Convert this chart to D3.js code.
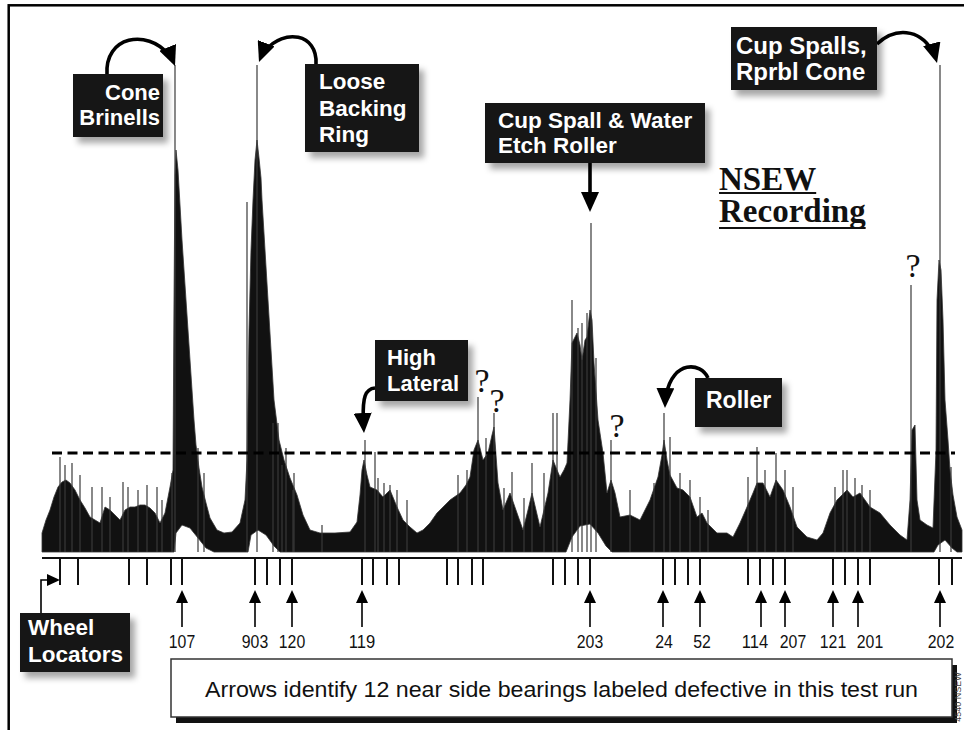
<!DOCTYPE html>
<html><head><meta charset="utf-8">
<script src="https://cdn.jsdelivr.net/npm/d3@7"></script>
<style>
html,body{margin:0;padding:0;background:#fff;}
svg{display:block;}
</style></head>
<body>
<svg id="chart" width="964" height="730"></svg>
<script>
// ---- DATA (position along train: 0..460, amplitude: 0..100) ----
const envelopeTop = [
 [0,5],[2,7.6],[4,9.6],[6,12.2],[8,14.2],[10,15.2],[12,15.6],[14,15],[16.5,13.6],[19,11.6],[21.5,10],[24,8.2],[26.5,7.6],[29,7],
 [31.5,10.2],[34,9.6],[36.5,8.6],[39,7.6],[41.5,9.6],[44,10.2],[46.5,10.2],[49,10.6],[51.5,10.6],[54,10],[56.5,9],[59,7],[61.5,9],
 [64,14.2],[65.5,17.6],[66,51.6],[66.5,76.6],[67,81.6],[68,77.6],[69,70.6],[70,63.6],[71,57.6],[72,51.6],[73,45.6],[74,39.6],
 [75,33.6],[76,27.6],[77,22.6],[78.5,18],[80,14.2],[82,11],[84,8],[87.5,5.6],[91,5],[95,5.2],[99,7],[101.5,11.6],
 [102.5,19.6],[103,31.6],[103.5,45.6],[104.5,61.6],[105.5,71.6],[106.5,79.6],[107.5,83.6],[108.5,80],[109.5,76],[110,71.6],
 [111.5,61.6],[113,51.6],[114.5,41.6],[116,31.6],[118.5,23.6],[121,19.6],[124,16],[127.5,12.6],[130.5,8.6],[134,5.6],[139,5],
 [146.5,5],[154,5.2],
 [157.5,7.2],[159,12.6],[160,17.6],[161,19.6],[162.5,16.6],[164,14.2],[167.5,13.6],[170.5,12.2],[174,13.6],[177.5,10.2],[180.5,7.6],
 [184,6.2],[187.5,5],[190.5,5.6],[194,7],[197.5,9],[201.5,10.6],[204,11.6],[209,13],[212,14.6],[214,16.2],[216,21.6],[218,23.6],
 [220.5,19.6],[223,21],[225,24.6],[226,26.2],[228,15],[230.5,9.6],[234,13],[237.5,9],[240.5,5.6],[243,9.6],[245,13],[247,9.6],
 [249,6.2],[253,13],[255.5,19.6],[257.5,17.6],[259,16.2],[261,17.6],[262.5,19],[264,31.6],[265,43],[267.5,45],[269,42.6],[270,39.6],
 [271.5,43.6],[272.5,44.2],[274,49.6],[275,47.6],[276,39],[278,27.6],[280.5,21],[282.5,13],[284.5,15.6],[286.5,13],[289,8.2],
 [294,8.6],[299,7.6],[304,11.6],[308,16.2],[310,20.6],[311,23.6],[312.5,19.6],[314,16.6],[317.5,14],[320.5,13.6],[324,12.2],
 [327.5,8.2],[330,9],[332.5,7],[337.5,5],[342.5,5],[345.5,4.2],[349,7],[352.5,10.2],[355.5,13],[357.5,15],[360.5,15],[364,12.2],
 [367,15.6],[370.5,13.6],[374,10.2],[377.5,6.2],[382.5,4.2],[387.5,3.6],[390.5,5],[394,9],[397.5,11.6],[402.5,13.6],[405.5,12.2],
 [409,13],[414,10.2],[419,9],[424,6.6],[429,4.6],[432.5,3.6],[434,11.6],[435,25.6],[436.5,26.6],[437.5,11.6],[439,7.6],[442.5,6.6],
 [445.5,6],[447,21.6],[447.5,51.6],[448.5,59.6],[449.5,57.6],[450.5,47.6],[451.5,31.6],[453,23.6],[454,17.6],[455.5,12.6],
 [457.5,8.2],[460,5.6]
];
const envelopeBottom = [
 [0,1.2],[66,1.2],[67,5],[70,6.6],[74,6],[78,4],[82,2],[86,1.2],
 [103,1.2],[104.5,4.6],[108,5.6],[112,4.6],[116,2.4],[119,1.2],
 [262,1.2],[265,4.2],[269,6.4],[274,6.8],[278,5],[282,2.4],[285,1.2],
 [446,1.2],[448,2.6],[451.5,3.6],[455,2],[457.5,1.2],[460,1.2]
];
const spikes = [
 [9,20.2],[11.5,18.6],[15,19],[19,16.6],[25,14.2],[30,14.2],[34,12.2],[40.5,15.2],[43,14.2],[48,13.6],[52.5,14.6],[57.5,14.2],
 [60,11.6],[65,17],[66.5,98.6],[102.5,71.2],[107.5,98.6],[115.5,27],[120,18.6],[125.5,13.6],[140,6.6],[161.5,23.6],[166.5,21.2],
 [174,14.6],[177.5,13.6],[182.5,11.6],[208,16.6],[212.5,17.6],[218,32.2],[226,29],[235,17.2],[245,19],[255.5,29],[257.5,29],
 [265,51.6],[270,47],[272.5,49],[274.5,67],[284.5,23.6],[294,13.6],[311,29],[314,24.2],[319,17],[324,15.6],[329,12.2],[333,9.6],
 [353,16.2],[357.5,22.2],[361.5,17.6],[367,21],[371.5,17.6],[375.5,14.2],[396.5,14.2],[400.5,17.6],[402.5,17.6],[406.5,16],
 [410,14.6],[414,13.6],[434.5,54.6],[449,98.6],[454.5,18.2],
 [78,22],[81,17],[118,27],[122,22],[126,17],[168,16],[171,15],[222,24],[231,14],[241,12],[251,17],[268,46],[277,40],[306,15]
];
const wheelLocators = [9,18,43.5,52.5,64.5,70,106.5,112.5,119,125,160,165.5,172.5,178.5,202.5,208,215,220.5,
 255.5,261.5,268,274,310.5,316.5,323,329,353,359,365.5,371.5,395.5,401.5,408,414,448.5,455];
const defectLabels = ["107","903","120","119","203","24","52","114","207","121","201","202"];
const defectPositions = [70,106.5,125,160,274,310.5,329,359.5,371.5,395.5,408,449];
const defectLabelPositions = [70,106.5,125,160,274,311,330,356.5,375.5,395.5,414,449.5];
const threshold = 21;
const thresholdSpan = [5,456.5];
const caption = "Arrows identify 12 near side bearings labeled defective in this test run";

// ---- SCALES ----
const svg = d3.select("#chart");
const x = d3.scaleLinear().domain([0,460]).range([42,962]);
const y = d3.scaleLinear().domain([0,100]).range([558,58]);

// defs
const defs = svg.append("defs");
const f = defs.append("filter").attr("id","sh").attr("x","-20%").attr("y","-20%").attr("width","160%").attr("height","170%");
f.append("feDropShadow").attr("dx",5).attr("dy",6).attr("stdDeviation",3).attr("flood-color","#000").attr("flood-opacity",0.35);
defs.append("marker").attr("id","ah").attr("markerUnits","userSpaceOnUse")
  .attr("markerWidth",20).attr("markerHeight",18).attr("viewBox","0 0 20 18")
  .attr("refX",20).attr("refY",9).attr("orient","auto")
  .append("path").attr("d","M0,0 L20,9 L0,18 Z").attr("fill","#000");
defs.append("marker").attr("id","ahs").attr("markerUnits","userSpaceOnUse")
  .attr("markerWidth",13).attr("markerHeight",12).attr("viewBox","0 0 13 12")
  .attr("refX",13).attr("refY",6).attr("orient","auto")
  .append("path").attr("d","M0,0 L13,6 L0,12 Z").attr("fill","#000");

// frame
svg.append("rect").attr("x",8.7).attr("y",5.3).attr("width",1000).attr("height",1000)
  .attr("fill","none").attr("stroke","#000").attr("stroke-width",2.5);

// ---- SIGNAL ENVELOPE ----
const poly = envelopeTop.map(d=>[x(d[0]),y(d[1])])
  .concat(envelopeBottom.slice().reverse().map(d=>[x(d[0]),y(d[1])]));
svg.append("path").attr("d", d3.line()(poly)+"Z").attr("fill","#111").attr("stroke","#333").attr("stroke-width",0.8);

svg.append("g").selectAll("line").data(spikes).join("line")
  .attr("x1",d=>x(d[0])).attr("x2",d=>x(d[0]))
  .attr("y1",y(1.2)).attr("y2",d=>y(d[1]))
  .attr("stroke","#3a3a3a").attr("stroke-width",1.2);

// baseline trace
svg.append("path").attr("d", d3.line()([[x(0),y(0)],[x(460),y(0)]]))
  .attr("stroke","#111").attr("stroke-width",1.8);

// wheel locator ticks
svg.append("g").selectAll("line").data(wheelLocators).join("line")
  .attr("x1",d=>x(d)).attr("x2",d=>x(d)).attr("y1",y(0)).attr("y2",y(0)+27)
  .attr("stroke","#111").attr("stroke-width",2);

// threshold dashed line
svg.append("line").attr("x1",x(thresholdSpan[0])).attr("x2",x(thresholdSpan[1]))
  .attr("y1",y(threshold)).attr("y2",y(threshold))
  .attr("stroke","#000").attr("stroke-width",2.8).attr("stroke-dasharray","10,5.5");

// ---- DEFECT ARROWS ----
function trimmed(sel, trim){
  sel.each(function(){ const L=this.getTotalLength(); d3.select(this).attr("stroke-dasharray",(L-trim)+" "+(L+20)); });
}
const dg = svg.append("g");
defectPositions.forEach((p,i)=>{
  const px = x(p);
  dg.append("path").attr("d",`M${px},627 L${px},590`).attr("stroke","#000").attr("stroke-width",1.6)
    .attr("fill","none").attr("marker-end","url(#ahs)").call(trimmed,8);
  dg.append("text").attr("x",x(defectLabelPositions[i])).attr("y",648).attr("text-anchor","middle")
    .attr("font-family","'Liberation Sans', Arial, sans-serif").attr("font-size",19)
    .attr("textLength",defectLabels[i].length*8.8).attr("lengthAdjust","spacingAndGlyphs")
    .attr("fill","#111").text(defectLabels[i]);
});

// caption box
svg.append("rect").attr("x",176).attr("y",665).attr("width",781).attr("height",58).attr("fill","#111");
svg.append("rect").attr("x",171).attr("y",659).attr("width",781).attr("height",58).attr("fill","#fff")
  .attr("stroke","#333").attr("stroke-width",1.5);
svg.append("text").attr("x",561.5).attr("y",697).attr("text-anchor","middle")
  .attr("font-family","'Liberation Sans', Arial, sans-serif").attr("font-size",22)
  .attr("textLength",713).attr("lengthAdjust","spacingAndGlyphs").attr("fill","#111").text(caption);

// ---- ANNOTATION BOXES ----
const annotations = [
 {lines:["Cone","Brinells"], box:[73,74,90,63], anchor:"end", tx:160, ty:[100,125], size:22},
 {lines:["Loose","Backing","Ring"], box:[305,64,114,88], anchor:"start", tx:319, ty:[89,116,142], size:22.5},
 {lines:["Cup Spall & Water","Etch Roller"], box:[485,103,220,60], anchor:"start", tx:498, ty:[128,153], size:22.5},
 {lines:["Cup Spalls,","Rprbl Cone"], box:[731,27,146,63], anchor:"start", tx:736, ty:[54,80], size:24},
 {lines:["High","Lateral"], box:[375,340,93,61], anchor:"start", tx:387, ty:[365,391], size:22},
 {lines:["Roller"], box:[695,378,87,49], anchor:"start", tx:706, ty:[408], size:23},
 {lines:["Wheel","Locators"], box:[20,613,110,59], anchor:"start", tx:28, ty:[635,662], size:22.5}
];
const arrowPaths = [
 "M107,75 C104,30 160,28 175,66",
 "M316,64 C318,28 272,28 259,62",
 "M877,44 C898,24 928,30 937,63",
 "M708,378 C700,360 666,360 665,408",
 "M375,388 C363,389 362,402 364,433",
 "M590,163 L590,212"
];
arrowPaths.forEach(d=>{
  svg.append("path").attr("d",d).attr("fill","none").attr("stroke","#000").attr("stroke-width",3.6)
    .attr("marker-end","url(#ah)").call(trimmed,14);
});
svg.append("path").attr("d","M41,613 L41,580 L60,580").attr("fill","none").attr("stroke","#000")
  .attr("stroke-width",1.6).attr("marker-end","url(#ahs)").call(trimmed,8);

annotations.forEach(a=>{
  const g = svg.append("g");
  g.append("rect").attr("x",a.box[0]).attr("y",a.box[1]).attr("width",a.box[2]).attr("height",a.box[3])
    .attr("fill","#141414").attr("filter","url(#sh)");
  a.lines.forEach((t,i)=>{
    g.append("text").attr("x",a.tx).attr("y",a.ty[i]).attr("text-anchor",a.anchor)
      .attr("font-family","'Liberation Sans', Arial, sans-serif").attr("font-weight","bold")
      .attr("font-size",a.size).attr("fill","#fff").text(t);
  });
});

// question marks
const qmarks = [[482,392],[497,412],[617,437],[913,277]];
svg.append("g").selectAll("text").data(qmarks).join("text")
  .attr("x",d=>d[0]).attr("y",d=>d[1]).attr("text-anchor","middle")
  .attr("font-family","'Liberation Serif', 'Times New Roman', serif").attr("font-size",34)
  .attr("fill","#111").text("?");

// NSEW Recording title
[["NSEW",190,193],["Recording",222,228]].forEach(([t,by,uy])=>{
  const tx = svg.append("text").attr("x",719).attr("y",by)
    .attr("font-family","'Liberation Serif', 'Times New Roman', serif").attr("font-weight","bold")
    .attr("font-size",33).attr("fill","#111").text(t);
  const L = tx.node().getComputedTextLength();
  svg.append("line").attr("x1",719).attr("x2",719+L).attr("y1",uy).attr("y2",uy)
    .attr("stroke","#111").attr("stroke-width",2);
});

// side code
svg.append("text").attr("transform","translate(961,697) rotate(-90)").attr("text-anchor","middle")
  .attr("font-family","'Liberation Sans', Arial, sans-serif").attr("font-size",9).attr("fill","#444")
  .text("4540 NSEW");
</script>
</body></html>
